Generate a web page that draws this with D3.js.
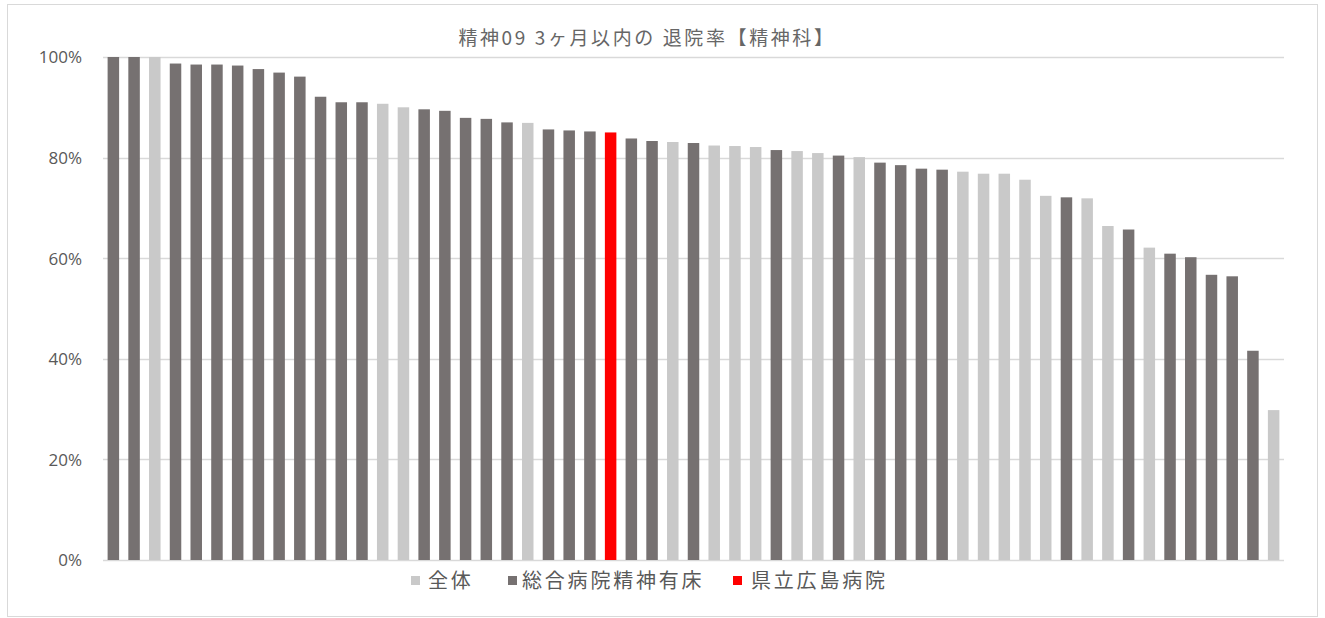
<!DOCTYPE html>
<html>
<head>
<meta charset="utf-8">
<script src="https://cdn.jsdelivr.net/npm/d3@7"></script>
<style>
  html, body { margin: 0; padding: 0; background: #fff; }
  svg { display: block; }
  text { font-family: "Noto Sans CJK JP", "Noto Sans", sans-serif; }
</style>
</head>
<body>
<svg id="chart" width="1325" height="618"></svg>
<script>
// ---- data ----
const title = "精神09 3ヶ月以内の 退院率【精神科】";
const seriesNames = ["全体", "総合病院精神有床", "県立広島病院"];
const seriesColors = ["#c9c9c9", "#767171", "#ff0000"];
const categories = [
  "H01","H02","H03","H04","H05","H06","H07","H08","H09","H10",
  "H11","H12","H13","H14","H15","H16","H17","H18","H19","H20",
  "H21","H22","H23","H24","H25","H26","H27","H28","H29","H30",
  "H31","H32","H33","H34","H35","H36","H37","H38","H39","H40",
  "H41","H42","H43","H44","H45","H46","H47","H48","H49","H50",
  "H51","H52","H53","H54","H55","H56","H57"
];
// group index per bar: 0 = 全体, 1 = 総合病院精神有床, 2 = 県立広島病院
const groups = [
  1,1,0,1,1,1,1,1,1,1,
  1,1,1,0,0,1,1,1,1,1,
  0,1,1,1,2,1,1,0,1,0,
  0,0,1,0,0,1,0,1,1,1,
  1,0,0,0,0,0,1,0,0,1,
  0,1,1,1,1,1,0
];
const values = [
  1.000,1.000,1.000,0.987,0.985,0.985,0.983,0.976,0.969,0.961,
  0.921,0.910,0.910,0.907,0.900,0.896,0.893,0.879,0.877,0.870,
  0.869,0.856,0.854,0.852,0.850,0.838,0.833,0.831,0.829,0.824,
  0.823,0.821,0.815,0.813,0.809,0.804,0.801,0.790,0.785,0.778,
  0.776,0.772,0.768,0.768,0.756,0.724,0.721,0.719,0.664,0.657,
  0.621,0.609,0.602,0.567,0.564,0.416,0.298
];
const yTicks = [0, 0.2, 0.4, 0.6, 0.8, 1.0];

// ---- drawing ----
const svg = d3.select("#chart");

// outer chart border
svg.append("rect")
  .attr("x", 7.5).attr("y", 4.5)
  .attr("width", 1310).attr("height", 612)
  .attr("fill", "#fff").attr("stroke", "#d9d9d9").attr("stroke-width", 1);

const plot = { left: 103, right: 1284, top: 57, bottom: 560 };

const x = d3.scaleBand()
  .domain(categories)
  .range([plot.left, plot.right])
  .paddingInner(0.445)
  .paddingOuter(0.2225);

const y = d3.scaleLinear()
  .domain([0, 1])
  .range([plot.bottom, plot.top]);

// gridlines
svg.append("g")
  .selectAll("line")
  .data(yTicks)
  .join("line")
  .attr("x1", plot.left).attr("x2", plot.right)
  .attr("y1", d => Math.round(y(d)) + 0.5)
  .attr("y2", d => Math.round(y(d)) + 0.5)
  .attr("stroke", "#d9d9d9").attr("stroke-width", 1.5);

// y axis labels via d3 axis
const yAxis = d3.axisLeft(y)
  .tickValues(yTicks)
  .tickFormat(d3.format(".0%"))
  .tickSize(0)
  .tickPadding(0);
const yg = svg.append("g")
  .attr("transform", `translate(${82},0)`)
  .call(yAxis);
yg.select(".domain").remove();
yg.selectAll("text")
  .attr("fill", "#595959")
  .style("font-family", "'Open Sans', 'Noto Sans', sans-serif")
  .style("font-size", "17px")
  .attr("dy", "0.35em");

// bars
svg.append("g")
  .selectAll("rect")
  .data(values.map((v, i) => ({ cat: categories[i], v, g: groups[i] })))
  .join("rect")
  .attr("x", d => x(d.cat))
  .attr("width", x.bandwidth())
  .attr("y", d => y(d.v))
  .attr("height", d => y(0) - y(d.v))
  .attr("fill", d => seriesColors[d.g]);

// title
svg.append("text")
  .attr("x", 647).attr("y", 45)
  .attr("text-anchor", "middle")
  .attr("fill", "#666666")
  .style("font-size", "19px")
  .style("letter-spacing", "2.6px")
  .text(title);

// legend
const legendPos = [
  { sq: 411, tx: 428 },
  { sq: 508, tx: 522 },
  { sq: 733, tx: 751 }
];
const lg = svg.append("g");
seriesNames.forEach((name, i) => {
  lg.append("rect")
    .attr("x", legendPos[i].sq).attr("y", 576)
    .attr("width", 9).attr("height", 9)
    .attr("fill", seriesColors[i]);
  lg.append("text")
    .attr("x", legendPos[i].tx).attr("y", 588)
    .attr("fill", "#595959")
    .style("font-size", "20px")
    .style("letter-spacing", "2.8px")
    .text(name);
});
</script>
</body>
</html>
